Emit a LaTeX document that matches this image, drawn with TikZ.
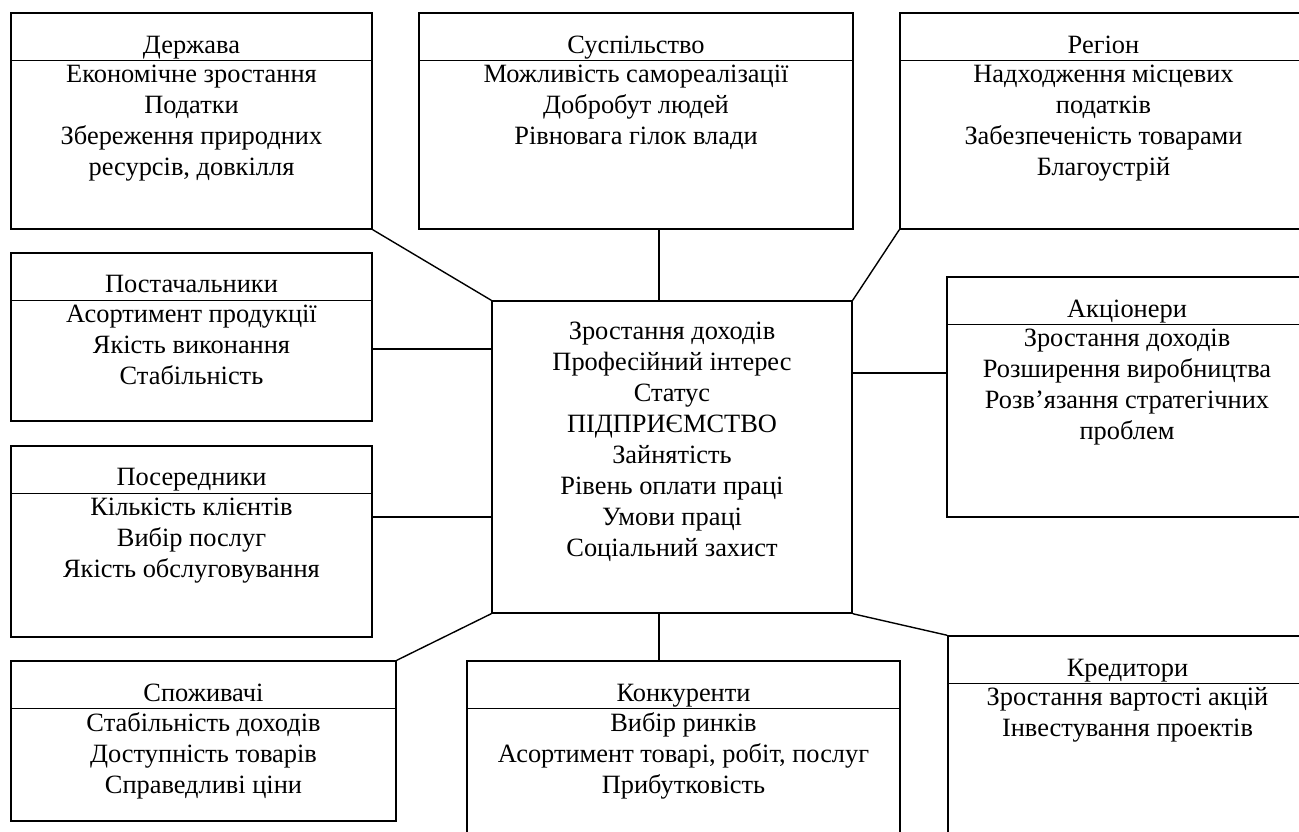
\documentclass[tikz,border=0pt]{standalone}
\usepackage{fontspec}
\setmainfont{Liberation Serif}
\usepackage{tikz}
\usetikzlibrary{positioning, calc, fit}
\tikzset{
  party/.style={rectangle, draw, line width=0.7pt, inner sep=0pt},
  headtext/.style={anchor=base, inner sep=0pt, font=\fontsize{13.2}{15.5}\selectfont},
  bodytext/.style={anchor=north, align=center, inner sep=0pt,
    font=\fontsize{13.2}{15.5}\selectfont, execute at begin node=\strut},
  link/.style={line width=0.7pt}
}

\begin{document}
\begin{tikzpicture}[x=0.5pt, y=-0.5pt]
  \useasboundingbox (0,0) rectangle (1299,831);
  \clip (0,0) rectangle (1299,831);

  % outer parties
  \node[party, fit={(11,13) (372,229)}] (derzh) {};
  \node[party, fit={(419,13) (853,229)}] (suspil) {};
  \node[party, fit={(900,13) (1307,229)}] (region) {};
  \node[party, fit={(11,253) (372,421)}] (postach) {};
  \node[party, fit={(11,446) (372,637)}] (posered) {};
  \node[party, fit={(947,277) (1307,517)}] (akcion) {};
  \node[party, fit={(11,661) (396,821)}] (spozh) {};
  \node[party, fit={(467,661) (900,845)}] (konk) {};
  \node[party, fit={(948,636) (1307,845)}] (kred) {};
  % the firm
  \node[party, fit={(492,301) (852,613)}] (firm) {};

  \foreach \b in {derzh,suspil,region,postach,posered,akcion,spozh,konk,kred}
    \draw[link] ([yshift=-24pt]\b.north west) -- ([yshift=-24pt]\b.north east);

  \node[headtext] at ([yshift=-20.5pt]derzh.north) {Держава};
  \node[bodytext] at ([yshift=-26pt]derzh.north)
    {Економічне зростання\\Податки\\Збереження природних\\ресурсів, довкілля};
  \node[headtext] at ([yshift=-20.5pt]suspil.north) {Суспільство};
  \node[bodytext] at ([yshift=-26pt]suspil.north)
    {Можливість самореалізації\\Добробут людей\\Рівновага гілок влади};
  \node[headtext] at ([yshift=-20.5pt]region.north) {Регіон};
  \node[bodytext] at ([yshift=-26pt]region.north)
    {Надходження місцевих\\податків\\Забезпеченість товарами\\Благоустрій};
  \node[headtext] at ([yshift=-20pt]postach.north) {Постачальники};
  \node[bodytext] at ([yshift=-26pt]postach.north)
    {Асортимент продукції\\Якість виконання\\Стабільність};
  \node[headtext] at ([yshift=-20pt]posered.north) {Посередники};
  \node[bodytext] at ([yshift=-26pt]posered.north)
    {Кількість клієнтів\\Вибір послуг\\Якість обслуговування};
  \node[headtext] at ([yshift=-20.5pt]akcion.north) {Акціонери};
  \node[bodytext] at ([yshift=-26pt]akcion.north)
    {Зростання доходів\\Розширення виробництва\\Розв’язання стратегічних\\проблем};
  \node[headtext] at ([yshift=-20.5pt]spozh.north) {Споживачі};
  \node[bodytext] at ([yshift=-26pt]spozh.north)
    {Стабільність доходів\\Доступність товарів\\Справедливі ціни};
  \node[headtext] at ([yshift=-20.5pt]konk.north) {Конкуренти};
  \node[bodytext] at ([yshift=-26pt]konk.north)
    {Вибір ринків\\Асортимент товарі, робіт, послуг\\Прибутковість};
  \node[headtext] at ([yshift=-20.5pt]kred.north) {Кредитори};
  \node[bodytext] at ([yshift=-26pt]kred.north)
    {Зростання вартості акцій\\Інвестування проектів};
  \node[bodytext] at ([yshift=-10.5pt]firm.north)
    {Зростання доходів\\Професійний інтерес\\Статус\\ПІДПРИЄМСТВО\\Зайнятість\\Рівень оплати праці\\Умови праці\\Соціальний захист};

  % connectors
  \coordinate (vaxis) at (659,0);
  \coordinate (postrail) at (0,349);
  \coordinate (poserail) at (0,517);
  \coordinate (akcrail) at (0,373);
  \draw[link] (derzh.south east) -- (firm.north west);
  \draw[link] (suspil.south -| vaxis) -- (firm.north -| vaxis);
  \draw[link] (region.south west) -- (firm.north east);
  \draw[link] (postach.east |- postrail) -- (firm.west |- postrail);
  \draw[link] (posered.east |- poserail) -- (firm.west |- poserail);
  \draw[link] (firm.east |- akcrail) -- (akcion.west |- akcrail);
  \draw[link] (spozh.north east) -- (firm.south west);
  \draw[link] (firm.south -| vaxis) -- (konk.north -| vaxis);
  \draw[link] (firm.south east) -- (kred.north west);
\end{tikzpicture}
\end{document}
